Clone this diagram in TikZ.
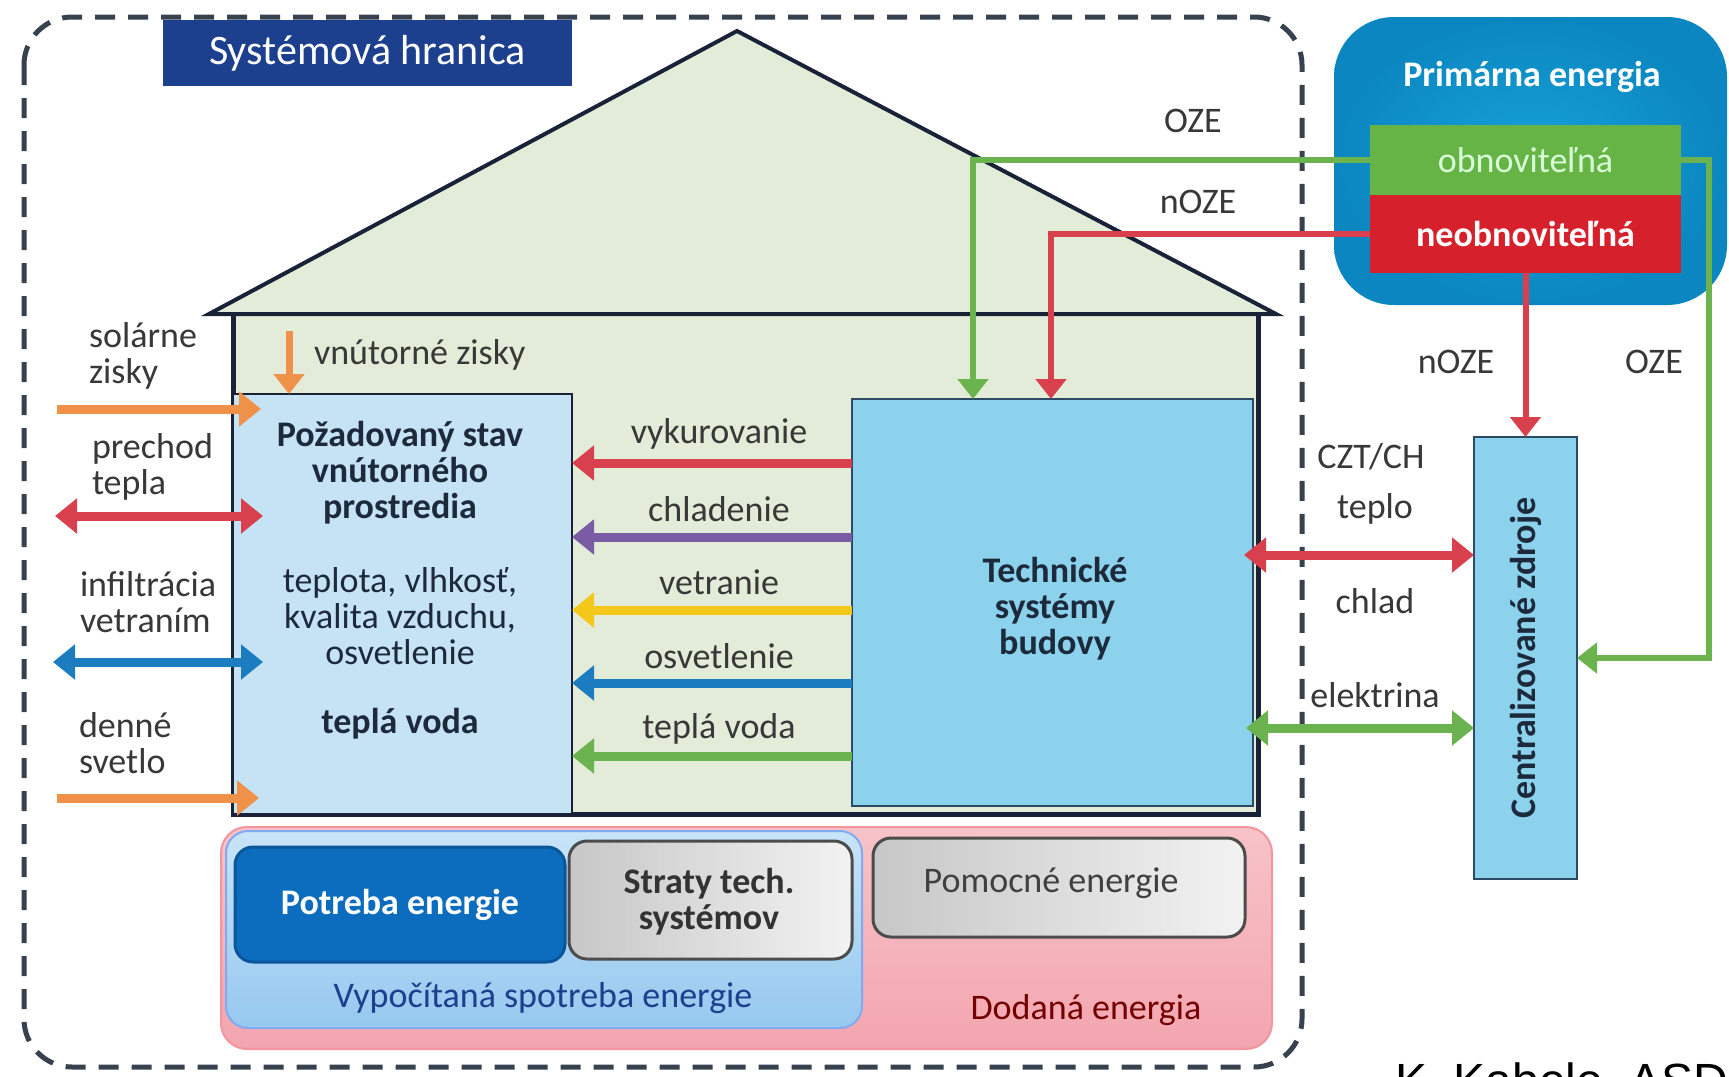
\documentclass[tikz,border=0pt]{standalone}
\usepackage{fontspec}
\setmainfont{Carlito}
\newfontfamily\attribfont{Liberation Sans}
\usetikzlibrary{arrows.meta,calc}
\definecolor{titlenavy}{HTML}{1C3F8E}
\definecolor{houseline}{HTML}{1A2238}
\definecolor{housefill}{HTML}{E3ECD8}
\definecolor{reqfill}{HTML}{C6E3F5}
\definecolor{techfill}{HTML}{8CD2EC}
\definecolor{techline}{HTML}{2B4A66}
\definecolor{cred}{HTML}{D8404E}
\definecolor{cpurple}{HTML}{7A5BA5}
\definecolor{cyellow}{HTML}{F4C71B}
\definecolor{cblue}{HTML}{1C7CC0}
\definecolor{cgreen}{HTML}{6BB34E}
\definecolor{corange}{HTML}{F0914A}
\definecolor{primfill}{HTML}{16A2D8}
\definecolor{primedge}{HTML}{0B86C0}
\definecolor{obnfill}{HTML}{66B445}
\definecolor{neofill}{HTML}{D6202C}
\definecolor{pinkfill}{HTML}{F3A5AF}
\definecolor{pinktop}{HTML}{F7C3C9}
\definecolor{vyptop}{HTML}{C8E4F8}
\definecolor{vypbot}{HTML}{96C8EF}
\definecolor{potfill}{HTML}{0C6CBE}
\definecolor{labelgray}{HTML}{383838}
\definecolor{darktext}{HTML}{1C2A3C}
\definecolor{boundary}{HTML}{38424E}
\begin{document}
\begin{tikzpicture}[x=1pt,y=-1pt,
  every node/.style={font=\fontsize{36}{36}\selectfont, inner sep=0pt, outer sep=0pt},
  box/.style={anchor=north west, inner sep=0pt, outer sep=0pt},
  lbl/.style={text=labelgray, align=left},
  boldtxt/.style={text=darktext, font=\fontsize{36}{36}\selectfont\bfseries},
  fat/.style={line width=9pt, -{Triangle[width=34pt,length=22pt]}},
  fatboth/.style={line width=9pt, {Triangle[width=34pt,length=22pt]}-{Triangle[width=34pt,length=22pt]}},
  pline/.style={line width=6pt, -{Triangle[width=30pt,length=20pt]}},
  bottombox/.style={box, rounded corners=18pt, draw=#1, line width=3pt},
]
\useasboundingbox (0,0) rectangle (1729,1076);
\clip (0,0) rectangle (1729,1076);
\fill[white] (0,0) rectangle (1729,1076);

% ---------- house ----------
\coordinate (apex) at (737,31);
\coordinate (eaveL) at (209,314);
\coordinate (eaveR) at (1276,314);
\fill[housefill] (eaveL) -- (apex) -- (eaveR) -- cycle;
\fill[housefill] (233,314) rectangle (1258,814);
\draw[houseline, line width=4pt, line join=miter] (eaveL) -- (apex) -- (eaveR) -- cycle;
\draw[houseline, line width=5pt] (233,314) -- (233,814) -- (1258,814) -- (1258,314);

% ---------- system boundary ----------
\draw[boundary, line width=5pt, dash pattern=on 20pt off 13pt, rounded corners=48pt] (24,17) rectangle (1302,1067);
\node[box, fill=titlenavy, minimum width=409pt, minimum height=66pt] (title) at (163,20) {};
\node[text=white, font=\fontsize{42}{42}\selectfont] (titletxt) at (title.center) {Systémová hranica};

% ---------- required state box ----------
\node[box, fill=reqfill, draw=houseline, line width=2pt, minimum width=339pt, minimum height=420pt] (req) at (233,394) {};
\node[boldtxt, align=center] (reqt1) at (400,473) {Požadovaný stav\\vnútorného\\prostredia};
\node[text=darktext, align=center] (reqt2) at (400,616) {teplota, vlhkosť,\\kvalita vzduchu,\\osvetlenie};
\node[boldtxt] (reqt3) at (400,724) {teplá voda};

% ---------- technical systems ----------
\node[box, fill=techfill, draw=techline, line width=2.5pt, minimum width=401pt, minimum height=407pt] (tech) at (852,399) {};
\node[boldtxt, align=center] (techt) at (1055,609) {Technické\\systémy\\budovy};

% internal flows
\coordinate (yvyk) at (0,463);
\coordinate (ychl) at (0,537);
\coordinate (yvet) at (0,610);
\coordinate (yosv) at (0,683);
\coordinate (ytep) at (0,756);
\draw[fat, cred] (tech.west |- yvyk) -- (req.east |- yvyk);
\draw[fat, cpurple] (tech.west |- ychl) -- (req.east |- ychl);
\draw[fat, cyellow] (tech.west |- yvet) -- (req.east |- yvet);
\draw[fat, cblue] (tech.west |- yosv) -- (req.east |- yosv);
\draw[fat, cgreen] (tech.west |- ytep) -- (req.east |- ytep);
\node[lbl] (lvyk) at (719,434) {vykurovanie};
\node[lbl] (lchl) at (719,509) {chladenie};
\node[lbl] (lvet) at (719,582) {vetranie};
\node[lbl] (losv) at (719,656) {osvetlenie};
\node[lbl] (ltep) at (719,729) {teplá voda};

% internal gains
\coordinate (vz) at (289,331);
\draw[corange, line width=7pt, -{Triangle[width=30pt,length=20pt]}] (vz) -- (vz |- req.north);
\node[lbl, anchor=west] (lvz) at (314,355) {vnútorné zisky};

% ---------- outside flows (left) ----------
\coordinate (sol) at (57,409);
\coordinate (pre) at (55,516);
\coordinate (inf) at (53,662);
\coordinate (den) at (57,798);
\draw[fat, corange, shorten >=-28pt] (sol) -- (req.west |- sol);
\draw[fatboth, cred, shorten >=-30pt] (pre) -- (req.west |- pre);
\draw[fatboth, cblue, shorten >=-30pt] (inf) -- (req.west |- inf);
\draw[fat, corange, shorten >=-26pt] (den) -- (req.west |- den);
\node[lbl, anchor=north west] (lsol) at (89,322) {solárne\\zisky};
\node[lbl, anchor=north west] (lpre) at (92,433) {prechod\\tepla};
\node[lbl, anchor=north west] (linf) at (80,571) {infiltrácia\\vetraním};
\node[lbl, anchor=north west] (lden) at (79,712) {denné\\svetlo};

% ---------- primary energy ----------
\node[box, inner color=primfill, outer color=primedge, rounded corners=60pt, minimum width=393pt, minimum height=288pt] (prim) at (1334,17) {};
\node[text=white, font=\fontsize{36}{36}\selectfont\bfseries] (primt) at (1532,77) {Primárna energia};
\node[box, fill=obnfill, minimum width=311pt, minimum height=70pt] (obn) at (1370,125) {};
\node[text=green!15!white] (obnt) at (obn.center) {obnoviteľná};
\node[box, fill=neofill, minimum width=311pt, minimum height=78pt] (neo) at (1370,195) {};
\node[text=white, font=\fontsize{36}{36}\selectfont\bfseries] (neot) at (neo.center) {neobnoviteľná};

% ---------- centralised sources ----------
\node[box, fill=techfill, draw=techline, line width=2.5pt, minimum width=103pt, minimum height=442pt] (cz) at (1474,437) {};
\node[boldtxt, rotate=90] (czt) at (cz.center) {Centralizované zdroje};

% primary connectors
\coordinate (gx) at (973,0);
\coordinate (rx) at (1051,0);
\coordinate (gr) at (1709,0);
\draw[pline, cgreen] (obn.west) -| (gx |- tech.north);
\draw[pline, cred] (neo.west) -| (rx |- tech.north);
\draw[pline, cred] (neo.south) -- (cz.north);
\draw[pline, cgreen] (obn.east) -| (cz.east -| gr) -- (cz.east);
\node[lbl] (loze1) at (1193,121) {OZE};
\node[lbl] (lnoze1) at (1198,202) {nOZE};
\node[lbl] (lnoze2) at (1456,362) {nOZE};
\node[lbl] (loze2) at (1654,362) {OZE};

% district heating / electricity
\coordinate (yteplo) at (0,555);
\coordinate (yelek) at (0,728);
\draw[fatboth, cred, shorten <=-9pt] (tech.east |- yteplo) -- (cz.west |- yteplo);
\draw[fatboth, cgreen, shorten <=-7pt] (tech.east |- yelek) -- (cz.west |- yelek);
\node[lbl] (lczt) at (1371,457) {CZT/CH};
\node[lbl] (lteplo) at (1375,509) {teplo};
\node[lbl] (lchlad) at (1375,601) {chlad};
\node[lbl] (lelek) at (1375,695) {elektrina};

% ---------- energy balance panel ----------
\node[box, rounded corners=26pt, top color=pinktop, bottom color=pinkfill, draw=pinkfill!90!red, line width=2pt, minimum width=1051pt, minimum height=222pt] (dod) at (221,827) {};
\node[text=red!45!black] (dodt) at (1086,1010) {Dodaná energia};
\node[box, rounded corners=22pt, top color=vyptop, bottom color=vypbot, draw=vypbot!85!blue, line width=2pt, minimum width=636pt, minimum height=197pt] (vyp) at (226,831) {};
\node[text=titlenavy] (vypt) at (543,998) {Vypočítaná spotreba energie};
\node[bottombox=potfill!80!black, fill=potfill, minimum width=330pt, minimum height=115pt] (pot) at (235,847) {};
\node[text=white, font=\fontsize{36}{36}\selectfont\bfseries] (pott) at (pot.center) {Potreba energie};
\node[bottombox=black!70, left color=black!22, right color=black!5, minimum width=283pt, minimum height=118pt] (str) at (569,841) {};
\node[boldtxt, text=black!80, align=center] (strt) at (709,902) {Straty tech.\\systémov};
\node[bottombox=black!70, left color=black!22, right color=black!5, minimum width=372pt, minimum height=99pt] (pom) at (873,838) {};
\node[text=black!75] (pomt) at (1051,883) {Pomocné energie};

% ---------- attribution ----------
\node[anchor=base west, font=\fontsize{48}{48}\attribfont, text=black] (src) at (1395,1097) {K. Kabele, ASD};
\end{tikzpicture}
\end{document}
